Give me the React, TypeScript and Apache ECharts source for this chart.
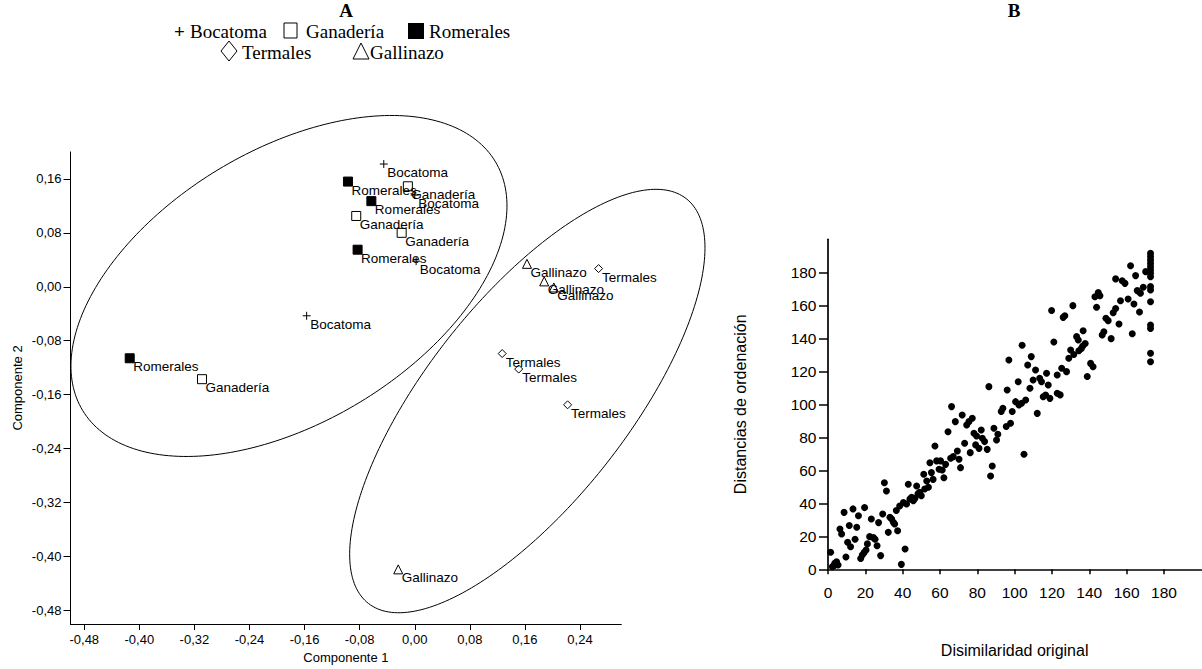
import React, { useEffect, useRef } from "react";
import * as echarts from "echarts";

// ---------- Panel A: PCA ordination ----------
const A_X_TICKS = [-0.48, -0.4, -0.32, -0.24, -0.16, -0.08, 0, 0.08, 0.16, 0.24];
const A_Y_TICKS = [-0.48, -0.4, -0.32, -0.24, -0.16, -0.08, 0, 0.08, 0.16];

const BOCATOMA = [[-0.045, 0.182], [0.0, 0.136], [0.002, 0.038], [-0.157, -0.043]];
const GANADERIA = [[-0.01, 0.149], [-0.085, 0.105], [-0.019, 0.08], [-0.309, -0.137]];
const ROMERALES = [[-0.097, 0.156], [-0.063, 0.127], [-0.083, 0.055], [-0.414, -0.106]];
const TERMALES = [[0.267, 0.027], [0.127, -0.099], [0.151, -0.122], [0.222, -0.175]];
const GALLINAZO = [[0.163, 0.034], [0.188, 0.008], [0.202, -0.001], [-0.024, -0.419]];

// ellipses: [centerX, centerY, majorX, majorY, minorX, minorY] (data units)
const ELLIPSE_LEFT = [-0.1827, 0.0012, 0.2994, 0.185, -0.1031, 0.1723];
const ELLIPSE_RIGHT = [0.1635, -0.1694, 0.2307, 0.3002, -0.1156, 0.0918];

// ---------- Panel B: Shepard plot ----------
const B_TICKS = [0, 20, 40, 60, 80, 100, 120, 140, 160, 180];
const B_POINTS = [
  [1.4, 10.3], [2.3, 1.6], [3.6, 3.6], [4.6, 4.6], [5.4, 2.6], [3.2, 2.2], [6.4, 24.4], [7.3, 21.4],
  [8.6, 34.5], [9.6, 7.5], [10.5, 16.4], [11.4, 26.5], [12.1, 13.7], [13.4, 36.6], [14.5, 18.2],
  [15.4, 25.5], [16.3, 32.5], [17.5, 6.5], [18.4, 8.7], [19.3, 10.1], [19.6, 37.4], [20.4, 11.7],
  [21.1, 15.4], [22.3, 19.8], [23.2, 30.5], [24.3, 19.2], [25.2, 18.2], [26.3, 14.3], [27.1, 28.3],
  [28.2, 8.3], [29.3, 33.5], [30.2, 52.5], [31.3, 47.5], [32.3, 22.4], [33.2, 31.5], [34.1, 30.5],
  [35.0, 28.5], [35.7, 27.5], [36.6, 35.6], [37.3, 23.4], [38.4, 38.4], [39.3, 3.0], [40.4, 40.4],
  [41.3, 12.3], [42.1, 39.6], [43.0, 51.5], [43.9, 42.6], [44.8, 43.6], [45.7, 41.6], [46.6, 43.0],
  [47.5, 50.5], [48.2, 45.7], [49.1, 46.7], [50.0, 44.6], [51.3, 57.6], [51.8, 48.7], [52.9, 53.5],
  [53.8, 49.7], [54.6, 64.6], [55.4, 58.6], [56.3, 54.5], [57.3, 74.7], [58.2, 65.7], [59.5, 60.6],
  [68.2, 89.5], [75.5, 89.5], [74.3, 87.5], [97.8, 88.5], [95.5, 86.5], [82.1, 84.4], [64.3, 83.4],
  [88.9, 85.5], [78.2, 82.4], [79.6, 80.8], [91.0, 81.8], [82.7, 79.4], [83.9, 77.4], [90.3, 78.4],
  [73.2, 76.4], [85.3, 72.7], [80.9, 73.3], [79.1, 75.4], [76.2, 70.7], [69.3, 71.7], [67.1, 68.3],
  [65.7, 67.3], [70.2, 66.7], [60.3, 65.7], [63.0, 63.6], [61.2, 60.2], [71.0, 61.6], [62.1, 55.5],
  [105.0, 69.7], [88.0, 62.6], [87.1, 56.5], [66.2, 98.6],
  [162.1, 184], [164.8, 178], [154.1, 176], [157.6, 174.9], [159.1, 173.3], [170.2, 180.4],
  [165.7, 168.9], [167.4, 167.3], [168.9, 170.9], [144.8, 167.8], [145.7, 165.8], [143.0, 165.2],
  [156.7, 162.8], [160.8, 163.8], [163.9, 160.8], [166.9, 155.9], [143.9, 158.8], [131.2, 159.8],
  [119.8, 156.9], [126.9, 153.7], [126.0, 152.7], [154.1, 158.1], [152.8, 155.5], [148.9, 152.1],
  [150.1, 150.7], [155.9, 148.7], [147.8, 144.0], [146.9, 142.0], [151.7, 139.8], [163.0, 142.8],
  [136.7, 144.6], [133.2, 141.0], [134.1, 139.0], [121.0, 137.8], [104.0, 135.8], [137.8, 136.9],
  [136.5, 135.3], [135.8, 133.9], [134.4, 132.5], [130.0, 132.9], [131.7, 130.2], [129.0, 127.9],
  [140.7, 124.8], [142.0, 122.8], [138.9, 116.8], [125.2, 121.8], [122.8, 117.8], [127.8, 119.8],
  [96.9, 126.9], [108.9, 128.9], [107.0, 123.8], [111.2, 120.8], [117.1, 118.8], [113.4, 115.8],
  [114.4, 113.7], [118.0, 111.7], [109.9, 114.7], [108.2, 109.7], [101.9, 113.7], [96.0, 108.7],
  [86.2, 110.7], [115.3, 104.6], [116.6, 105.6], [118.9, 103.6], [122.8, 106.7], [124.4, 105.7],
  [105.9, 102.6], [100.5, 101.6], [102.3, 99.6], [103.7, 100.6], [93.7, 97.6], [92.8, 95.6],
  [98.7, 95.6], [112.1, 94.5], [71.9, 93.5], [77.3, 91.5],
  [172.8, 191.5], [172.8, 189.5], [172.8, 187.4], [172.8, 185.4], [172.8, 183.4], [172.8, 181.4],
  [172.8, 179.4], [172.8, 177.3], [172.8, 171.3], [172.8, 169.3], [172.8, 162.2], [172.8, 148.1],
  [172.8, 146.0], [172.8, 130.9], [172.8, 125.8],
];

const SANS = "Liberation Sans, Arial, sans-serif";
const SERIF = "Liberation Serif, Times New Roman, serif";
const fmtA = (v: number) => v.toFixed(2).replace(".", ",");

function pointSeries(name: string, data: number[][], symbol: string, size: number, fill: string) {
  return {
    name,
    type: "scatter",
    xAxisIndex: 0,
    yAxisIndex: 0,
    data,
    symbol,
    symbolSize: size,
    itemStyle: { color: fill, borderColor: "#000", borderWidth: 1, opacity: 1 },
    label: {
      show: true,
      formatter: name,
      position: "inside",
      align: "left",
      verticalAlign: "middle",
      offset: [3.5, 8.5],
      color: "#000",
      fontFamily: SANS,
      fontSize: 13.5,
      textBorderWidth: 0,
    },
    z: 3,
  };
}

function ellipseSeries(params: number[]) {
  return {
    type: "custom",
    xAxisIndex: 0,
    yAxisIndex: 0,
    clip: false,
    silent: true,
    data: [params],
    renderItem: (_p: any, api: any) => {
      const cx = api.value(0), cy = api.value(1);
      const ux = api.value(2), uy = api.value(3);
      const vx = api.value(4), vy = api.value(5);
      const pts: number[][] = [];
      const n = 240;
      for (let i = 0; i < n; i++) {
        const t = (i / n) * Math.PI * 2;
        pts.push(api.coord([cx + ux * Math.cos(t) + vx * Math.sin(t), cy + uy * Math.cos(t) + vy * Math.sin(t)]));
      }
      return {
        type: "polygon",
        shape: { points: pts },
        style: { fill: "none", stroke: "#000", lineWidth: 1 },
      };
    },
    z: 2,
  };
}

const axisA = (ticks: number[]) => ({
  axisLine: { show: true, onZero: false, lineStyle: { color: "#000", width: 1 } },
  axisTick: { show: true, length: 6, customValues: ticks, lineStyle: { color: "#000", width: 1 } },
  axisLabel: { customValues: ticks, formatter: fmtA, color: "#000", fontFamily: SANS, fontSize: 13 },
  splitLine: { show: false },
});

const axisB = () => ({
  axisLine: { show: true, onZero: false, lineStyle: { color: "#000", width: 1.7 } },
  axisTick: { show: true, customValues: B_TICKS, lineStyle: { color: "#000", width: 1.5 } },
  axisLabel: { customValues: B_TICKS, color: "#000", fontFamily: SANS, fontSize: 15.5 },
  splitLine: { show: false },
});

export default function App() {
  const ref = useRef<HTMLDivElement>(null);
  useEffect(() => {
    if (!ref.current) return;
    const chart = echarts.init(ref.current, null, { renderer: "svg" });
    const legendText = (text: string, x: number, y: number) => ({
      type: "text",
      x,
      y,
      style: { text, fill: "#000", font: `19px ${SERIF}`, textAlign: "left", textVerticalAlign: "middle" },
    });
    chart.setOption({
      animation: false,
      backgroundColor: "#fff",
      grid: [
        { left: 70.5, top: 151.9, width: 550.8, height: 474 },
        { left: 828, top: 239.3, width: 373.3, height: 330 },
      ],
      xAxis: [
        {
          type: "value", gridIndex: 0, min: -0.5, max: 0.3,
          name: "Componente 1", nameLocation: "middle", nameGap: 27,
          nameTextStyle: { color: "#000", fontFamily: SANS, fontSize: 13 },
          ...axisA(A_X_TICKS),
          axisLabel: { ...axisA(A_X_TICKS).axisLabel, margin: 9 },
        },
        {
          type: "value", gridIndex: 1, min: 0, max: 200,
          name: "Disimilaridad original", nameLocation: "middle", nameGap: 73,
          nameTextStyle: { color: "#000", fontFamily: SANS, fontSize: 16 },
          ...axisB(),
          axisTick: { ...axisB().axisTick, length: 5 },
          axisLabel: { ...axisB().axisLabel, margin: 15 },
        },
      ],
      yAxis: [
        {
          type: "value", gridIndex: 0, min: -0.5, max: 0.2,
          name: "Componente 2", nameLocation: "middle", nameGap: 47,
          nameTextStyle: { color: "#000", fontFamily: SANS, fontSize: 13 },
          ...axisA(A_Y_TICKS),
          axisTick: { ...axisA(A_Y_TICKS).axisTick, length: 7 },
          axisLabel: { ...axisA(A_Y_TICKS).axisLabel, margin: 9 },
        },
        {
          type: "value", gridIndex: 1, min: 0, max: 200,
          name: "Distancias de ordenación", nameLocation: "middle", nameGap: 80,
          nameTextStyle: { color: "#000", fontFamily: SANS, fontSize: 16 },
          ...axisB(),
          axisTick: { ...axisB().axisTick, length: 9 },
          axisLabel: { ...axisB().axisLabel, margin: 11.5 },
        },
      ],
      graphic: [
        { type: "text", x: 346, y: 10, style: { text: "A", fill: "#000", font: `bold 19px ${SERIF}`, textAlign: "center", textVerticalAlign: "middle" } },
        { type: "text", x: 1014, y: 10, style: { text: "B", fill: "#000", font: `bold 19px ${SERIF}`, textAlign: "center", textVerticalAlign: "middle" } },
        { type: "text", x: 174, y: 31, style: { text: "+", fill: "#000", font: `bold 19px ${SERIF}`, textAlign: "left", textVerticalAlign: "middle" } },
        legendText("Bocatoma", 190, 31),
        { type: "rect", shape: { x: 284, y: 23, width: 13, height: 15 }, style: { fill: "#fff", stroke: "#000", lineWidth: 1 } },
        legendText("Ganadería", 306, 31),
        { type: "rect", shape: { x: 408, y: 23, width: 16, height: 16 }, style: { fill: "#000" } },
        legendText("Romerales", 429, 31),
        { type: "polygon", shape: { points: [[229, 41], [237, 51], [229, 61], [221, 51]] }, style: { fill: "#fff", stroke: "#000", lineWidth: 1 } },
        legendText("Termales", 242, 52),
        { type: "polygon", shape: { points: [[361, 43], [369, 59], [353, 59]] }, style: { fill: "#fff", stroke: "#000", lineWidth: 1 } },
        legendText("Gallinazo", 370, 52),
      ],
      series: [
        ellipseSeries(ELLIPSE_LEFT),
        ellipseSeries(ELLIPSE_RIGHT),
        pointSeries("Bocatoma", BOCATOMA, "path://M0,4H8M4,0V8", 8, "transparent"),
        pointSeries("Ganadería", GANADERIA, "rect", 9, "#fff"),
        pointSeries("Romerales", ROMERALES, "rect", 9, "#000"),
        pointSeries("Termales", TERMALES, "diamond", 8, "#fff"),
        pointSeries("Gallinazo", GALLINAZO, "triangle", 9, "#fff"),
        {
          type: "scatter",
          xAxisIndex: 1,
          yAxisIndex: 1,
          data: B_POINTS,
          symbol: "circle",
          symbolSize: 7,
          itemStyle: { color: "#000", opacity: 1 },
          clip: false,
        },
      ],
    });
    return () => chart.dispose();
  }, []);
  return <div ref={ref} style={{ position: "absolute", left: 0, top: 0, width: 1202, height: 669, background: "#fff" }} />;
}
